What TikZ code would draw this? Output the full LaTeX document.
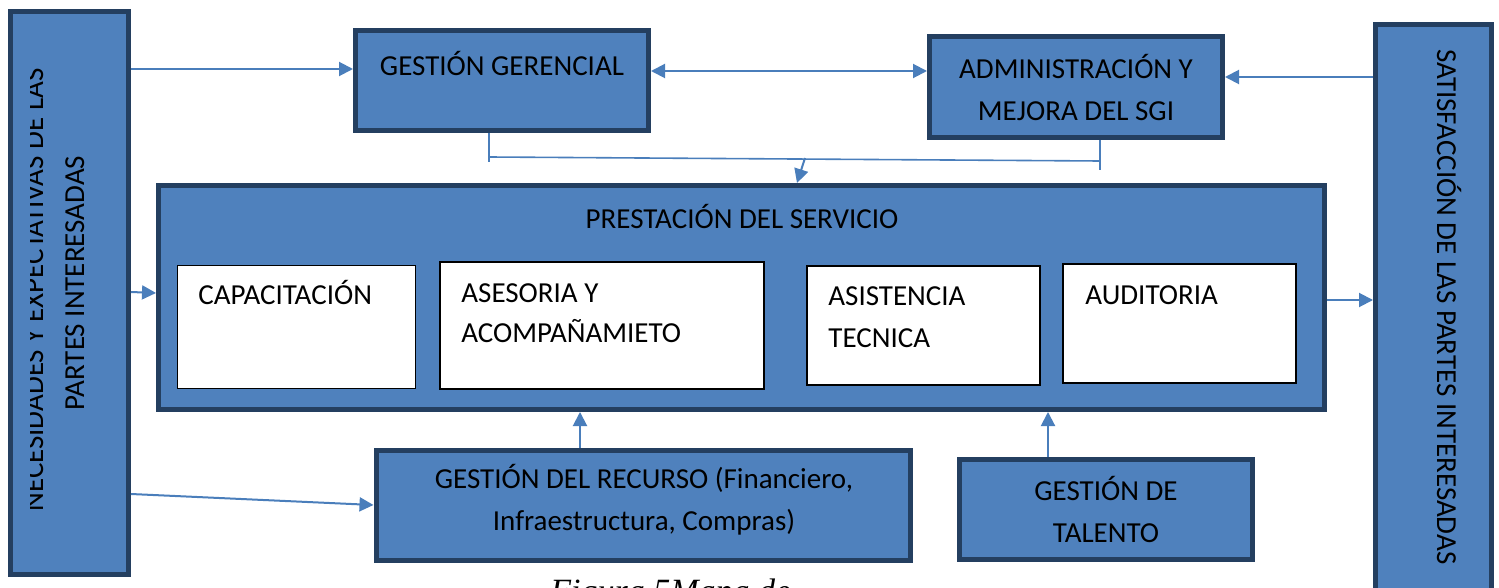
\documentclass[tikz,border=0pt]{standalone}
\usepackage{fontspec}
\setmainfont{Carlito}
\newfontfamily\capfont{Liberation Serif}
\usetikzlibrary{arrows.meta,positioning}

\definecolor{boxblue}{HTML}{4F81BD}
\definecolor{boxnavy}{HTML}{243F60}
\definecolor{lineblue}{HTML}{4A7EBB}

\tikzset{
  bluebox/.style={draw=boxnavy, fill=boxblue, line width=2.5pt, inner sep=0pt, align=center},
  whitebox/.style={draw=black, fill=white, line width=0.6pt, inner sep=0pt},
  lbl/.style={inner sep=0pt, anchor=base west},
  sidetxt/.style={inner sep=0pt, anchor=base},
  arr/.style={draw=lineblue, line width=1pt, -{Triangle[length=7pt,width=7pt]}},
  arrboth/.style={draw=lineblue, line width=1pt, {Triangle[length=7pt,width=7pt]}-{Triangle[length=7pt,width=7pt]}},
  lin/.style={draw=lineblue, line width=0.8pt},
}

\begin{document}
\begin{tikzpicture}[x=0.5pt, y=-0.5pt, font=\fontsize{14.5}{21}\selectfont]
  \useasboundingbox (0,0) rectangle (1499,588);

  % side bars
  \node[bluebox, minimum width=59pt, minimum height=281.5pt] (nec) at (69.5,293) {};
  \node[bluebox, minimum width=58pt, minimum height=296.5pt] (sat) at (1433.5,321) {};
  \begin{scope}
    \clip (30,20) rectangle (125,570);
    \node[sidetxt, rotate=90] (nec1) at (43,290) {NECESIDADES Y EXPECTATIVAS DE LAS};
  \end{scope}
  \node[sidetxt, rotate=90] (nec2) at (84,283) {PARTES INTERESADAS};
  \node[sidetxt, rotate=-90] (sat1) at (1437,307) {SATISFACCIÓN DE LAS PARTES INTERESADAS};

  % upper boxes
  \node[bluebox, minimum width=146.5pt, minimum height=50pt] (gg) at (502,80.5) {};
  \node[sidetxt] (ggt) at (502,76) {GESTIÓN GERENCIAL};
  \node[bluebox, minimum width=146.5pt, minimum height=50.5pt] (adm) at (1076,87) {ADMINISTRACIÓN Y\\MEJORA DEL SGI};

  % service box and its parts
  \node[bluebox, minimum width=583pt, minimum height=112pt] (prest) at (741.5,297.5) {};
  \node[sidetxt] (prestt) at (742,228.5) {PRESTACIÓN DEL SERVICIO};
  \node[whitebox, minimum width=119pt, minimum height=61.5pt] (cap) at (296.5,327) {};
  \node[lbl] (capt) at (198,304.5) {CAPACITACIÓN};
  \node[whitebox, minimum width=162pt, minimum height=63.5pt] (ase) at (602,325.5) {};
  \node[lbl] (ase1) at (461,302.5) {ASESORIA Y};
  \node[lbl] (ase2) at (461,342.5) {ACOMPAÑAMIETO};
  \node[whitebox, minimum width=116.5pt, minimum height=59.5pt] (asi) at (923.5,325.5) {};
  \node[lbl] (asi1) at (828,305.5) {ASISTENCIA};
  \node[lbl] (asi2) at (828,347.5) {TECNICA};
  \node[whitebox, minimum width=116.5pt, minimum height=59.5pt] (aud) at (1179.5,323.5) {};
  \node[lbl] (audt) at (1085,304.5) {AUDITORIA};

  % lower boxes
  \node[bluebox, minimum width=267pt, minimum height=55pt] (gr) at (643,505.5) {};
  \node[inner sep=0pt, align=center] (grt) at (644,500) {GESTIÓN DEL RECURSO (Financiero,\\Infraestructura, Compras)};
  \node[bluebox, minimum width=146.5pt, minimum height=50pt] (gt) at (1106,509.5) {GESTIÓN DE\\TALENTO};

  % caption, cut by the page edge
  \node[lbl, font=\capfont\itshape\fontsize{17}{20}\selectfont] (fig) at (550,602) {Figura 5Mapa de};

  % connectors
  \draw[arr] (nec.east |- 0,69) -- (gg.west |- 0,69);
  \draw[arrboth] (gg.east |- 0,71) -- (adm.west |- 0,71);
  \draw[arr] (sat.west |- 0,77) -- (adm.east |- 0,77);

  \coordinate (bl) at (489,157);
  \coordinate (br) at (1100,161);
  \coordinate (blend) at (489,162);
  \coordinate (brend) at (1100,170);
  \coordinate (mid) at (805,158);
  \draw[lin] (gg.south -| bl) -- (blend);
  \draw[lin] (adm.south -| br) -- (brend);
  \draw[lin] (bl) -- (br);
  \draw[arr] (mid) -- (prest.north -| 797,0);

  \draw[arr] (nec.east |- 0,292) -- (prest.west |- 0,293);
  \draw[arr] (prest.east |- 0,300) -- (sat.west |- 0,300);
  \draw[arr] (gr.north -| 580,0) -- (prest.south -| 580,0);
  \draw[arr] (gt.north -| 1048,0) -- (prest.south -| 1048,0);
  \draw[arr] (nec.east |- 0,494) -- (gr.west |- 0,505);
\end{tikzpicture}
\end{document}
